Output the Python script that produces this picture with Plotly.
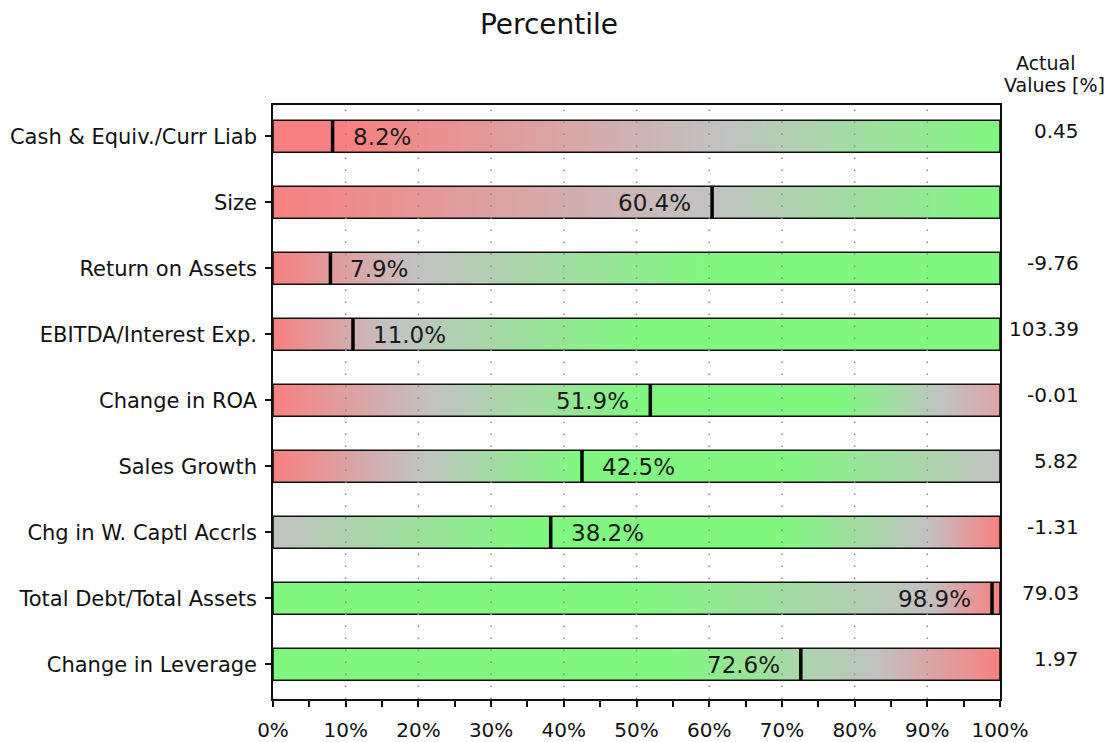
import plotly.graph_objects as go

# Metrics shown top to bottom
metrics = [
    "Cash & Equiv./Curr Liab",
    "Size",
    "Return on Assets",
    "EBITDA/Interest Exp.",
    "Change in ROA",
    "Sales Growth",
    "Chg in W. Captl Accrls",
    "Total Debt/Total Assets",
    "Change in Leverage",
]
percentiles = [8.2, 60.4, 7.9, 11.0, 51.9, 42.5, 38.2, 98.9, 72.6]
actual_values = ["0.45", "", "-9.76", "103.39", "-0.01", "5.82", "-1.31", "79.03", "1.97"]
x_ticks = [0, 10, 20, 30, 40, 50, 60, 70, 80, 90, 100]

# Colour ramps for each bar (red = unfavourable, green = favourable)
RED = "rgb(248,128,128)"
GRAY = "rgb(194,194,194)"
GREEN = "rgb(128,248,128)"
PINK_GRAY = "rgb(222,164,164)"
ramps = [
    [[0, RED], [0.1, RED], [0.62, GRAY], [1, GREEN]],
    [[0, RED], [0.6, GRAY], [1, GREEN]],
    [[0, RED], [0.2, GRAY], [0.6, GREEN], [1, GREEN]],
    [[0, RED], [0.16, GRAY], [0.5, GREEN], [1, GREEN]],
    [[0, RED], [0.22, GRAY], [0.5, GREEN], [0.78, GREEN], [0.92, GRAY], [1, PINK_GRAY]],
    [[0, RED], [0.2, GRAY], [0.42, GREEN], [0.7, GREEN], [1, GRAY]],
    [[0, GRAY], [0.35, GREEN], [0.7, GREEN], [0.9, GRAY], [1, RED]],
    [[0, GREEN], [0.5, GREEN], [0.9, GRAY], [1, RED]],
    [[0, GREEN], [0.55, GREEN], [0.83, GRAY], [1, RED]],
]

FONT = "DejaVu Sans"
HALF = 0.2424  # half bar thickness in category units

fig = go.Figure()

for i, (name, pct) in enumerate(zip(metrics, percentiles)):
    y0, y1 = i - HALF, i + HALF
    # full-width gradient bar
    fig.add_trace(go.Scatter(
        x=[0, 100, 100, 0, 0],
        y=[y0, y0, y1, y1, y0],
        mode="lines",
        fill="toself",
        fillgradient=dict(type="horizontal", colorscale=ramps[i], start=0, stop=100),
        line=dict(color="#111111", width=1.6),
        hoverinfo="skip",
        showlegend=False,
    ))
    # percentile marker
    fig.add_trace(go.Scatter(
        x=[pct, pct],
        y=[y0, y1],
        mode="lines",
        line=dict(color="#000000", width=3.5),
        hoverinfo="skip",
        showlegend=False,
    ))
    # percentile label beside the marker
    left = pct > 50
    fig.add_annotation(
        x=pct, y=i, xref="x", yref="y",
        text=f"{pct:.1f}%",
        showarrow=False,
        xanchor="right" if left else "left",
        xshift=-19 if left else 18,
        yshift=-1,
        font=dict(family=FONT, size=23, color="#1a1a1a"),
    )
    # actual value in the right-hand column
    if actual_values[i]:
        fig.add_annotation(
            x=1.1115, y=i, xref="paper", yref="y",
            text=actual_values[i],
            showarrow=False,
            xanchor="right",
            yshift=5,
            font=dict(family=FONT, size=20, color="#111111"),
        )

# column header (two separate lines, set tightly)
fig.add_annotation(x=1.063, y=(699 - 63) / 594, xref="paper", yref="paper", text="Actual",
                   showarrow=False, xanchor="center", yanchor="middle",
                   font=dict(family=FONT, size=19, color="#111111"))
fig.add_annotation(x=1.075, y=(699 - 85) / 594, xref="paper", yref="paper", text="Values [%]",
                   showarrow=False, xanchor="center", yanchor="middle",
                   font=dict(family=FONT, size=19, color="#111111"))

# dotted vertical grid drawn over the bars
for v in x_ticks[1:-1]:
    fig.add_shape(type="line", xref="x", yref="paper", x0=v, x1=v, y0=0, y1=1,
                  line=dict(color="#8a8a8a", width=1.5, dash="1.5px,10.5px"),
                  layer="above")

fig.update_layout(
    width=1115, height=742,
    margin=dict(l=273, r=115, t=105, b=43, autoexpand=False),
    paper_bgcolor="white",
    plot_bgcolor="white",
    title=dict(text="Percentile", x=549 / 1115, xref="container", xanchor="center",
               y=1 - 24 / 742, yref="container", yanchor="middle",
               font=dict(family=FONT, size=28, color="#111111")),
    font=dict(family=FONT, color="#111111"),
)

fig.update_xaxes(
    range=[0, 100],
    tickvals=x_ticks,
    ticktext=[f"{t}%" for t in x_ticks],
    ticks="outside", ticklen=6, tickwidth=1.5, tickcolor="#111111",
    minor=dict(dtick=5, ticks="outside", ticklen=6, tickwidth=1.5, tickcolor="#111111", showgrid=False),
    showgrid=False, zeroline=False,
    showline=True, linecolor="#111111", linewidth=1.6, mirror=True,
    tickfont=dict(family=FONT, size=20, color="#111111"),
    ticklabelstandoff=6,
    automargin=False,
    fixedrange=True,
)
fig.update_yaxes(
    range=[8.527, -0.473],
    tickvals=list(range(len(metrics))),
    ticktext=metrics,
    ticks="outside", ticklen=6, tickwidth=1.5, tickcolor="#111111",
    showgrid=False, zeroline=False,
    showline=True, linecolor="#111111", linewidth=1.6, mirror=True,
    tickfont=dict(family=FONT, size=21, color="#111111"),
    ticklabelstandoff=4,
    automargin=False,
    fixedrange=True,
)

fig.write_html("out.html")
